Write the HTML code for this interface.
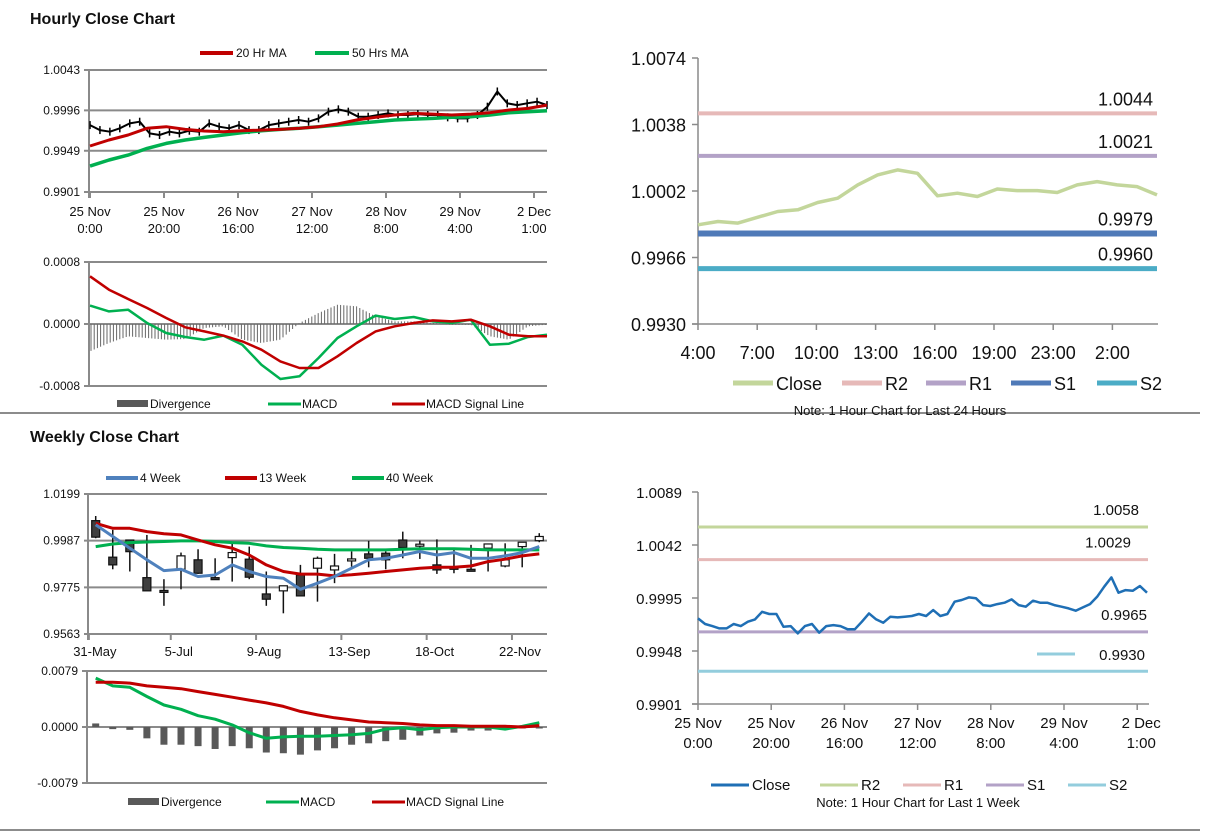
<!DOCTYPE html>
<html><head><meta charset="utf-8"><style>
body{margin:0;background:#fff;width:1212px;height:834px;overflow:hidden;font-family:"Liberation Sans",Arial,sans-serif}
svg text{font-family:"Liberation Sans",Arial,sans-serif}
</style></head><body>
<svg id="c" width="1212" height="834" xmlns="http://www.w3.org/2000/svg">
<text x="30" y="24" font-size="16" font-weight="bold" fill="#111">Hourly Close Chart</text>
<text x="30" y="442" font-size="16" font-weight="bold" fill="#111">Weekly Close Chart</text>
<line x1="0" y1="413" x2="1200" y2="413" stroke="#666" stroke-width="1.5"/>
<line x1="0" y1="830" x2="1200" y2="830" stroke="#666" stroke-width="1.5"/>
<g id="g"></g>
</svg>
<script>
// ---- Hourly price panel data ----
const hCloseVals=[.99789,.99731,.99712,.99751,.99809,.99828,.99692,.99673,.99712,.99692,.99723,.99712,.99809,.99770,.99751,.99789,.99731,.99731,.99789,.99809,.99828,.99848,.99828,.99867,.99945,.99972,.99945,.99886,.99886,.99906,.99925,.99906,.99906,.99917,.99906,.99906,.99879,.99867,.99867,.99906,1.00003,1.00180,1.00042,1.00022,1.00042,1.00061,1.00022];
const hMA20=[.99545,.99615,.99673,.99751,.99770,.99739,.99720,.99712,.99723,.99731,.99739,.99751,.99770,.99801,.99848,.99879,.99906,.99925,.99917,.99906,.99917,.99933,.99964,.99983,1.00022];
const hMA50=[.99312,.99382,.99440,.99518,.99576,.99615,.99646,.99673,.99700,.99723,.99739,.99751,.99770,.99789,.99809,.99828,.99848,.99859,.99867,.99879,.99886,.99906,.99933,.99945,.99956];
const hPriceTicks=["1.0043","0.9996","0.9949","0.9901"];
const hPriceTickVals=[1.0043,0.9996,0.9949,0.9901];
const hTimeLabels=[["25 Nov","0:00"],["25 Nov","20:00"],["26 Nov","16:00"],["27 Nov","12:00"],["28 Nov","8:00"],["29 Nov","4:00"],["2 Dec","1:00"]];
// ---- Hourly MACD ----
const hMacd=[.000237,.000163,.000185,.000013,-.000116,-.000168,-.000202,-.000150,-.000267,-.000525,-.000710,-.000675,-.000439,-.000181,-.000030,.000108,.000065,.000090,.000034,.000013,.000056,-.000267,-.000254,-.000168,-.000138];
const hSignal=[.000615,.000443,.000323,.000206,.000077,-.000043,-.000095,-.000150,-.000224,-.000331,-.000482,-.000568,-.000568,-.000417,-.000245,-.000095,-.000030,.000013,.000047,.000034,.000056,-.000030,-.000138,-.000159,-.000159];
const hDiverg=[-.000353,-.000245,-.000159,-.000181,-.000202,-.000194,-.000052,-.000030,-.000202,-.000245,-.000202,.000013,.000142,.000249,.000228,.000099,.000034,.000034,.000013,-.000009,-.000009,-.000159,-.000202,-.000030,-.000009];
const hMacdTicks=["0.0008","0.0000","-0.0008"];
const hMacdTickVals=[0.0008,0,-0.0008];
// ---- 24h chart ----
const dCloseVals=[.99837,.99855,.99846,.99878,.99909,.99918,.99958,.99981,1.00053,1.00107,1.00134,1.00116,.99994,1.00008,.99990,1.00031,1.00022,1.00022,1.00012,1.00053,1.00071,1.00053,1.00044,.99999];
const dLevels=[1.0044,1.0021,0.9979,0.9960];
const dLevelLabels=["1.0044","1.0021","0.9979","0.9960"];
const dTicks=["1.0074","1.0038","1.0002","0.9966","0.9930"];
const dTickVals=[1.0074,1.0038,1.0002,0.9966,0.9930];
const dTimeLabels=["4:00","7:00","10:00","13:00","16:00","19:00","23:00","2:00"];
// ---- Weekly candles ----
const wOpen=[1.0078,.9912,.9990,.9819,.9761,.9857,.9900,.9819,.9910,.9903,.9745,.9759,.9831,.9862,.9854,.9904,.9927,.9930,.9990,.9971,.9877,.9866,.9857,.9953,.9872,.9960,.9987];
const wClose=[1.0003,.9877,.9937,.9759,.9759,.9918,.9839,.9812,.9933,.9821,.9721,.9782,.9736,.9907,.9872,.9904,.9907,.9900,.9956,.9971,.9854,.9863,.9855,.9972,.9900,.9980,1.0006];
const wHigh=[1.0099,1.0036,.9990,1.0013,.9812,.9933,.9948,.9907,.9983,.9960,.9847,.9782,.9877,.9915,.9927,.9938,.9986,.9938,1.0028,.9987,.9993,.9945,.9968,.9972,.9975,.9980,1.0021];
const wLow=[.9998,.9857,.9847,.9759,.9691,.9766,.9836,.9809,.9801,.9812,.9691,.9657,.9736,.9710,.9794,.9869,.9866,.9857,.9907,.9904,.9836,.9839,.9851,.9847,.9866,.9866,.9980];
const w4=[1.0059,1.0006,.9953,.9900,.9851,.9857,.9824,.9831,.9877,.9847,.9824,.9816,.9766,.9794,.9824,.9862,.9900,.9907,.9922,.9938,.9922,.9933,.9907,.9907,.9918,.9933,.9960];
const w13=[1.0066,1.0043,1.0043,1.0028,1.0018,1.0013,.9990,.9968,.9953,.9922,.9877,.9847,.9835,.9835,.9827,.9832,.9839,.9847,.9854,.9862,.9866,.9866,.9872,.9892,.9903,.9918,.9927];
const w40=[.9960,.9972,.9978,.9981,.9983,.9986,.9986,.9983,.9978,.9975,.9963,.9956,.9953,.9948,.9945,.9945,.9945,.9945,.9948,.9950,.9950,.9950,.9948,.9945,.9945,.9945,.9945];
const wTicks=["1.0199","0.9987","0.9775","0.9563"];
const wTickVals=[1.0199,0.9987,0.9775,0.9563];
const wDateLabels=["31-May","5-Jul","9-Aug","13-Sep","18-Oct","22-Nov"];
const wDateIdx=[-0.4,4.4,9.4,14.4,19.4,24.4];
// ---- Weekly MACD ----
const wMacd=[.0069,.0058,.0056,.0043,.0031,.0025,.0016,.0011,.0003,-.0008,-.0016,-.0014,-.0013,-.0013,-.0012,-.0011,-.0009,-.0003,-.0001,-.0004,-.0001,0,0,0,-.0003,.0001,.0006];
const wSignal=[.0063,.0063,.0062,.0058,.0056,.0054,.0050,.0046,.0042,.0038,.0034,.0029,.0022,.0017,.0013,.0010,.0007,.0006,.0005,.0003,.0002,.0002,.0001,.0001,.0001,0,.0002];
const wDiverg=[.0005,-.0003,-.0004,-.0016,-.0025,-.0025,-.0027,-.0031,-.0027,-.0030,-.0036,-.0037,-.0039,-.0033,-.0030,-.0025,-.0023,-.0020,-.0018,-.0012,-.0009,-.0008,-.0005,-.0005,-.0004,-.0001,-.0001];
const wMacdTicks=["0.0079","0.0000","-0.0079"];
const wMacdTickVals=[0.0079,0,-0.0079];
// ---- 1 week hourly chart ----
const kCloseVals=[.99769,.99719,.99701,.99680,.99680,.99719,.99701,.99740,.99760,.99828,.99808,.99808,.99695,.99701,.99636,.99701,.99719,.99642,.99701,.99710,.99701,.99672,.99672,.99740,.99813,.99760,.99731,.99784,.99778,.99784,.99790,.99808,.99790,.99843,.99790,.99808,.99917,.99932,.99955,.99947,.99887,.99879,.99896,.99908,.99938,.99887,.99873,.99926,.99908,.99908,.99887,.99873,.99858,.99837,.99867,.99896,.99961,1.00050,1.00133,.99997,1.00020,1.00014,1.00056,.99997];
const kLevels=[1.0058,1.0029,0.9965,0.9930];
const kLevelLabels=["1.0058","1.0029","0.9965","0.9930"];
const kTicks=["1.0089","1.0042","0.9995","0.9948","0.9901"];
const kTickVals=[1.0089,1.0042,0.9995,0.9948,0.9901];
const kTimeLabels=hTimeLabels;

const NS="http://www.w3.org/2000/svg";
const G=document.getElementById('g');
function mk(tag,a){const e=document.createElementNS(NS,tag);for(const k in a)e.setAttribute(k,a[k]);G.appendChild(e);return e;}
function txt(x,y,s,size,anchor,fill){const e=mk('text',{x:x,y:y,'font-size':size,'text-anchor':anchor||'start',fill:fill||'#111'});e.textContent=s;return e;}
function poly(pts,color,w){return mk('polyline',{points:pts.map(p=>p[0].toFixed(1)+','+p[1].toFixed(1)).join(' '),fill:'none',stroke:color,'stroke-width':w,'stroke-linejoin':'round'});}
const GR='#8a8a8a';
const RED='#c00000',GRN='#00b050';

// scales
const xA=(i,n)=>90+i*(547-90)/(n-1);
const yA=v=>70+(1.0043-v)*8592;
const yB=v=>324-v*62/0.0008;
const xC=(i,n)=>698+i*(1157-698)/(n-1);
const yC=v=>58+(1.0074-v)*266/0.0144;
const xD=i=>95.7+i*17.06;
const yD=v=>494+(1.0199-v)*140/0.0636;
const yE=v=>727-v*56/0.0079;
const xF=(i,n)=>698+i*(1147-698)/(n-1);
const yF=v=>492+(1.0089-v)*212/0.0188;

let e;
// ===== Panel A: hourly price =====
hPriceTickVals.forEach((v,i)=>{
 e=mk('line',{x1:84,x2:547,y1:yA(v),y2:yA(v),stroke:GR,'stroke-width':2});
 
 
 e=txt(80,yA(v)+4,hPriceTicks[i],12,'end');
 
 
});
e=mk('line',{x1:89,x2:89,y1:70,y2:198,stroke:GR,'stroke-width':2});


hTimeLabels.forEach((l,i)=>{
 const x=90+i*74;
 e=mk('line',{x1:x,x2:x,y1:192,y2:198,stroke:GR,'stroke-width':2});
 
 
 e=txt(x,216,l[0],13,'middle');
 
 
 e=txt(x,233,l[1],13,'middle');
 
 
});
hCloseVals.forEach((v,i)=>{
 const x=xA(i,hCloseVals.length);
 e=mk('line',{x1:x,x2:x,y1:yA(v)-4,y2:yA(v)+4,stroke:'#000','stroke-width':1.5});
 
 
});
e=poly(hCloseVals.map((v,i)=>[xA(i,hCloseVals.length),yA(v)]),'#000',2);


e=poly(hMA50.map((v,i)=>[xA(i,hMA50.length),yA(v)]),GRN,3.5);


e=poly(hMA20.map((v,i)=>[xA(i,hMA20.length),yA(v)]),RED,3);


e=mk('line',{x1:200,x2:233,y1:53,y2:53,stroke:RED,'stroke-width':4});


e=txt(236,57,'20 Hr MA',12);


e=mk('line',{x1:315,x2:349,y1:53,y2:53,stroke:GRN,'stroke-width':4});


e=txt(352,57,'50 Hrs MA',12);



// ===== Panel B: hourly MACD =====
[262,324,386].forEach(y=>{
 e=mk('line',{x1:84,x2:547,y1:y,y2:y,stroke:GR,'stroke-width':2});
 
 
});
e=mk('line',{x1:89,x2:89,y1:262,y2:386,stroke:GR,'stroke-width':2});


hMacdTickVals.forEach((v,i)=>{
 e=txt(80,yB(v)+4,hMacdTicks[i],12,'end');
 
 
});
(function(){const n=hDiverg.length;for(let x=91;x<546;x+=3.2){const f=(x-90)/(457)*(n-1);const i=Math.min(n-2,Math.floor(f)),t=f-i;const v=hDiverg[i]*(1-t)+hDiverg[i+1]*t;
 e=mk('line',{x1:x,x2:x,y1:324,y2:yB(v),stroke:'#666','stroke-width':1});
 
 }})();
e=poly(hMacd.map((v,i)=>[xA(i,hMacd.length),yB(v)]),GRN,2.5);


e=poly(hSignal.map((v,i)=>[xA(i,hSignal.length),yB(v)]),RED,2.5);


function macdLegend(y,x1,x2,x3){
 e=mk('rect',{x:x1,y:y-4,width:31,height:7,fill:'#595959'});
 
 
 e=txt(x1+33,y+4,'Divergence',12);
 
 
 e=mk('line',{x1:x2,x2:x2+33,y1:y,y2:y,stroke:GRN,'stroke-width':3});
 
 
 e=txt(x2+34,y+4,'MACD',12);
 
 
 e=mk('line',{x1:x3,x2:x3+33,y1:y,y2:y,stroke:RED,'stroke-width':3});
 
 
 e=txt(x3+34,y+4,'MACD Signal Line',12);
 
 
}
macdLegend(404,117,268,392);

// ===== Panel C: 24h close =====
e=mk('line',{x1:698,x2:698,y1:58,y2:324,stroke:GR,'stroke-width':1.5});


e=mk('line',{x1:692,x2:1158,y1:324,y2:324,stroke:GR,'stroke-width':1.5});


dTickVals.forEach((v,i)=>{
 e=mk('line',{x1:692,x2:698,y1:yC(v),y2:yC(v),stroke:GR,'stroke-width':1.5});
 
 
 e=txt(686,yC(v)+7,dTicks[i],18,'end');
 
 
});
dTimeLabels.forEach((l,i)=>{
 const x=698+i*59.2;
 e=mk('line',{x1:x,x2:x,y1:324,y2:330,stroke:GR,'stroke-width':1.5});
 
 
 e=txt(x,359,l,18,'middle');
 
 
});
const dColors=['#e6b9b8','#b3a2c7','#4f7ab8','#4bacc6'];
const dWidths=[4,4,6,5];
dLevels.forEach((v,i)=>{
 e=mk('line',{x1:698,x2:1157,y1:yC(v),y2:yC(v),stroke:dColors[i],'stroke-width':dWidths[i]});
 
 
 e=txt(1153,yC(v)-8,dLevelLabels[i],18,'end');
 
 
});
e=poly(dCloseVals.map((v,i)=>[xC(i,dCloseVals.length),yC(v)]),'#c3d69b',3.5);


const dLeg=[['Close','#c3d69b',733],['R2','#e6b9b8',842],['R1','#b3a2c7',926],['S1','#4f7ab8',1011],['S2','#4bacc6',1097]];
dLeg.forEach(l=>{
 e=mk('line',{x1:l[2],x2:l[2]+40,y1:383,y2:383,stroke:l[1],'stroke-width':5});
 
 
 e=txt(l[2]+43,390,l[0],18);
 
 
});
e=txt(900,415,'Note: 1 Hour Chart for Last 24 Hours',13,'middle');



// ===== Panel D: weekly candles =====
wTickVals.forEach((v,i)=>{
 e=mk('line',{x1:84,x2:547,y1:yD(v),y2:yD(v),stroke:GR,'stroke-width':2});
 
 
 e=txt(80,yD(v)+4,wTicks[i],12,'end');
 
 
});
e=mk('line',{x1:88,x2:88,y1:494,y2:640,stroke:GR,'stroke-width':2});


wDateLabels.forEach((l,i)=>{
 const x=xD(wDateIdx[i]);
 e=mk('line',{x1:x,x2:x,y1:634,y2:640,stroke:GR,'stroke-width':2});
 
 
 e=txt(x+(i==0?6:8),656,l,13,'middle');
 
 
});
wOpen.forEach((o,i)=>{
 const x=xD(i),c=wClose[i];
 e=mk('line',{x1:x,x2:x,y1:yD(wHigh[i]),y2:yD(wLow[i]),stroke:'#111','stroke-width':1.5});
 
 
 const t=Math.min(yD(o),yD(c)),h=Math.max(2,Math.abs(yD(o)-yD(c)));
 e=mk('rect',{x:x-4,y:t,width:8,height:h,fill:c<o?'#3f3f3f':'#fff',stroke:'#111','stroke-width':1.2});
 
 
});
e=poly(w40.map((v,i)=>[xD(i),yD(v)]),GRN,3);


e=poly(w13.map((v,i)=>[xD(i),yD(v)]),RED,3);


e=poly(w4.map((v,i)=>[xD(i),yD(v)]),'#4f81bd',3);


[['4 Week','#4f81bd',106],['13 Week',RED,225],['40 Week',GRN,352]].forEach(l=>{
 e=mk('line',{x1:l[2],x2:l[2]+32,y1:478,y2:478,stroke:l[1],'stroke-width':4});
 
 
 e=txt(l[2]+34,482,l[0],12);
 
 
});

// ===== Panel E: weekly MACD =====
[671,727,783].forEach(y=>{
 e=mk('line',{x1:82,x2:547,y1:y,y2:y,stroke:GR,'stroke-width':2});
 
 
});
e=mk('line',{x1:87,x2:87,y1:671,y2:783,stroke:GR,'stroke-width':2});


wMacdTickVals.forEach((v,i)=>{
 e=txt(78,yE(v)+4,wMacdTicks[i],12,'end');
 
 
});
wDiverg.forEach((v,i)=>{
 const x=xD(i);
 e=mk('rect',{x:x-3.5,y:Math.min(yE(v),727),width:7,height:Math.max(1.5,Math.abs(yE(v)-727)),fill:'#595959'});
 
 
});
e=poly(wMacd.map((v,i)=>[xD(i),yE(v)]),GRN,3);


e=poly(wSignal.map((v,i)=>[xD(i),yE(v)]),RED,3);


macdLegend(802,128,266,372);

// ===== Panel F: 1 week hourly =====
e=mk('line',{x1:698,x2:698,y1:492,y2:704,stroke:GR,'stroke-width':1.5});


e=mk('line',{x1:692,x2:1149,y1:704,y2:704,stroke:GR,'stroke-width':1.5});


kTickVals.forEach((v,i)=>{
 e=mk('line',{x1:692,x2:698,y1:yF(v),y2:yF(v),stroke:GR,'stroke-width':1.5});
 
 
 e=txt(682,yF(v)+6,kTicks[i],15,'end');
 
 
});
kTimeLabels.forEach((l,i)=>{
 const x=698+i*73.2;
 e=mk('line',{x1:x,x2:x,y1:704,y2:710,stroke:GR,'stroke-width':1.5});
 
 
 e=txt(x+(i==6?4:0),728,l[0],15,'middle');
 
 
 e=txt(x+(i==6?4:0),748,l[1],15,'middle');
 
 
});
const kColors=['#c3d69b','#e6b9b8','#b3a2c7','#93cddd'];
const kLabX=[1139,1131,1147,1145];
const kLabDy=[-12,-12,-12,-10];
kLevels.forEach((v,i)=>{
 e=mk('line',{x1:698,x2:1148,y1:yF(v),y2:yF(v),stroke:kColors[i],'stroke-width':3});
 
 
 e=txt(kLabX[i],i==3?660:yF(v)+kLabDy[i],kLevelLabels[i],15,'end');
 
 
});
e=mk('line',{x1:1037,x2:1075,y1:654,y2:654,stroke:'#93cddd','stroke-width':3});


e=poly(kCloseVals.map((v,i)=>[xF(i,kCloseVals.length),yF(v)]),'#1f6fb5',2.5);


[['Close','#1f6fb5',711],['R2','#c3d69b',820],['R1','#e6b9b8',903],['S1','#b3a2c7',986],['S2','#93cddd',1068]].forEach(l=>{
 e=mk('line',{x1:l[2],x2:l[2]+38,y1:785,y2:785,stroke:l[1],'stroke-width':3});
 
 
 e=txt(l[2]+41,790,l[0],15);
 
 
});
e=txt(918,807,'Note: 1 Hour Chart for Last 1 Week',13,'middle');


</script>
</body></html>
